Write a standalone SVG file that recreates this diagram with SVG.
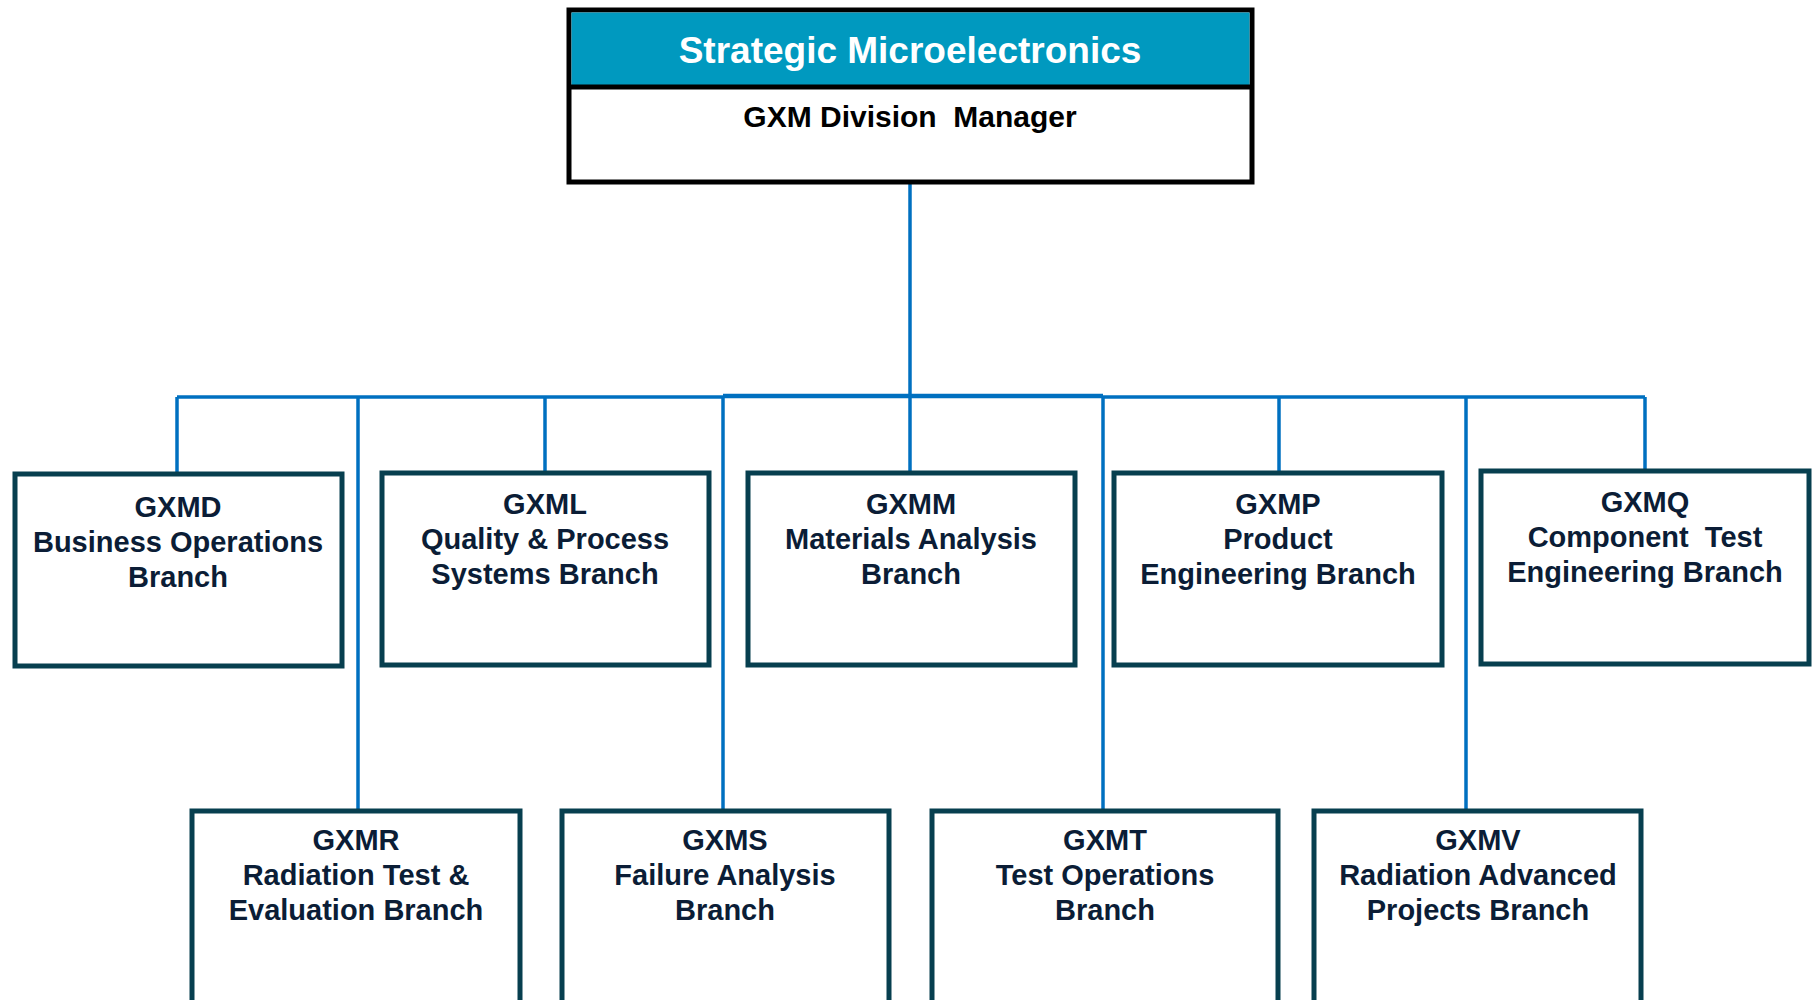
<svg xmlns="http://www.w3.org/2000/svg" width="1816" height="1000" viewBox="0 0 1816 1000">
<style>
.box{fill:#ffffff;stroke:#073f4f;stroke-width:5}
.t{font-family:"Liberation Sans",Arial,sans-serif;font-weight:bold;font-size:29px;fill:#0b1d36;text-anchor:middle}
.c{fill:none;stroke:#0070c0;stroke-width:3.5}
</style>
<rect width="1816" height="1000" fill="#ffffff"/>
<g id="connectors">
<line class="c" x1="910" y1="183" x2="910" y2="397"/>
<line class="c" x1="177" y1="397" x2="723" y2="397"/>
<line class="c" x1="723" y1="396" x2="1103" y2="396" style="stroke-width:4.5"/>
<line class="c" x1="1103" y1="397" x2="1645" y2="397"/>
<line class="c" x1="177" y1="397" x2="177" y2="474"/>
<line class="c" x1="545" y1="397" x2="545" y2="473"/>
<line class="c" x1="910" y1="397" x2="910" y2="473"/>
<line class="c" x1="1279" y1="397" x2="1279" y2="473"/>
<line class="c" x1="1645" y1="397" x2="1645" y2="471"/>
<line class="c" x1="358" y1="397" x2="358" y2="810"/>
<line class="c" x1="723" y1="397" x2="723" y2="810"/>
<line class="c" x1="1103" y1="397" x2="1103" y2="810"/>
<line class="c" x1="1466" y1="397" x2="1466" y2="812"/>
</g>
<g id="top">
<rect x="569" y="10" width="683" height="172" fill="#ffffff" stroke="#000000" stroke-width="5"/>
<rect x="571.5" y="12.5" width="678" height="74" fill="#0099bf"/>
<line x1="569" y1="87" x2="1252" y2="87" stroke="#000000" stroke-width="5"/>
<text x="910" y="63" font-family="'Liberation Sans',Arial,sans-serif" font-weight="bold" font-size="37" fill="#ffffff" text-anchor="middle">Strategic Microelectronics</text>
<text x="910" y="127" font-family="'Liberation Sans',Arial,sans-serif" font-weight="bold" font-size="30" fill="#000000" text-anchor="middle" xml:space="preserve" style="white-space:pre">GXM Division  Manager</text>
</g>
<g id="gxmd">
<rect class="box" x="15" y="474" width="327" height="192"/>
<text class="t" x="178" y="517">GXMD</text>
<text class="t" x="178" y="552">Business Operations</text>
<text class="t" x="178" y="587">Branch</text>
</g>
<g id="gxml">
<rect class="box" x="382" y="473" width="327" height="192"/>
<text class="t" x="545" y="514">GXML</text>
<text class="t" x="545" y="549">Quality &amp; Process</text>
<text class="t" x="545" y="584">Systems Branch</text>
</g>
<g id="gxmm">
<rect class="box" x="748" y="473" width="327" height="192"/>
<text class="t" x="911" y="514">GXMM</text>
<text class="t" x="911" y="549">Materials Analysis</text>
<text class="t" x="911" y="584">Branch</text>
</g>
<g id="gxmp">
<rect class="box" x="1114" y="473" width="328" height="192"/>
<text class="t" x="1278" y="514">GXMP</text>
<text class="t" x="1278" y="549">Product</text>
<text class="t" x="1278" y="584">Engineering Branch</text>
</g>
<g id="gxmq">
<rect class="box" x="1481" y="471" width="328" height="193"/>
<text class="t" x="1645" y="512">GXMQ</text>
<text class="t" x="1645" y="547" xml:space="preserve" style="white-space:pre">Component  Test</text>
<text class="t" x="1645" y="582">Engineering Branch</text>
</g>
<g id="gxmr">
<rect class="box" x="192" y="811" width="328" height="230"/>
<text class="t" x="356" y="850">GXMR</text>
<text class="t" x="356" y="885">Radiation Test &amp;</text>
<text class="t" x="356" y="920">Evaluation Branch</text>
</g>
<g id="gxms">
<rect class="box" x="562" y="811" width="327" height="230"/>
<text class="t" x="725" y="850">GXMS</text>
<text class="t" x="725" y="885">Failure Analysis</text>
<text class="t" x="725" y="920">Branch</text>
</g>
<g id="gxmt">
<rect class="box" x="932" y="811" width="346" height="230"/>
<text class="t" x="1105" y="850">GXMT</text>
<text class="t" x="1105" y="885">Test Operations</text>
<text class="t" x="1105" y="920">Branch</text>
</g>
<g id="gxmv">
<rect class="box" x="1314" y="811" width="327" height="230"/>
<text class="t" x="1478" y="850">GXMV</text>
<text class="t" x="1478" y="885">Radiation Advanced</text>
<text class="t" x="1478" y="920">Projects Branch</text>
</g>
</svg>
